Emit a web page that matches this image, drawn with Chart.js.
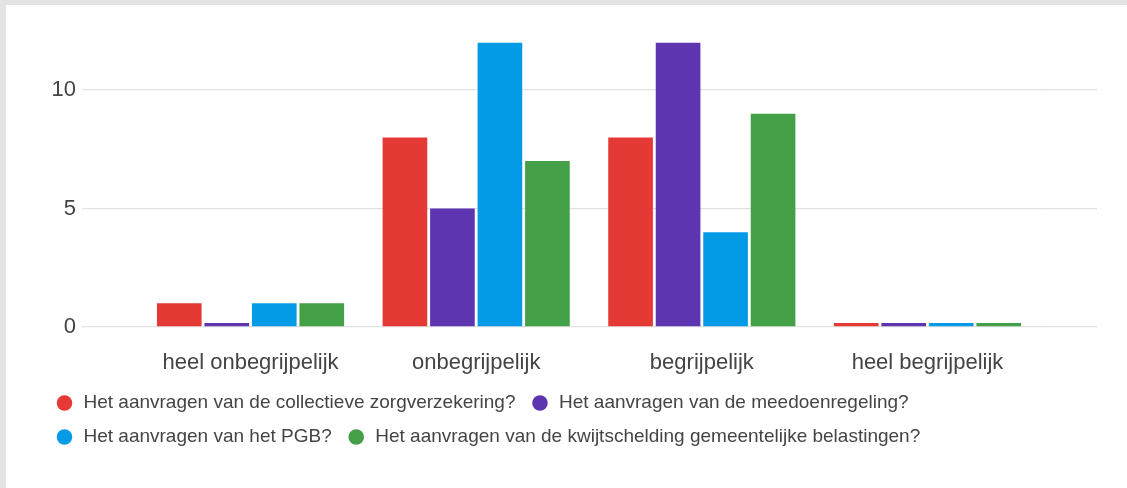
<!DOCTYPE html>
<html>
<head>
<meta charset="utf-8">
<script src="https://cdn.jsdelivr.net/npm/chart.js@4"></script>
<style>
  html, body { margin: 0; padding: 0; background: #e3e3e3; }
  #wrap { position: absolute; left: 6px; top: 5px; width: 1121px; height: 483px; background: #fff; }
</style>
</head>
<body>
<div id="wrap"><canvas id="chart"></canvas></div>
<script>
// chart data
const categories = ["heel onbegrijpelijk", "onbegrijpelijk", "begrijpelijk", "heel begrijpelijk"];
const seriesNames = [
    "Het aanvragen van de collectieve zorgverzekering?",
    "Het aanvragen van de meedoenregeling?",
    "Het aanvragen van het PGB?",
    "Het aanvragen van de kwijtschelding gemeentelijke belastingen?"
];
const zorgverzekering = [1, 8, 8, 0];
const meedoenregeling = [0, 5, 12, 0];
const pgb = [1, 12, 4, 0];
const kwijtschelding = [1, 7, 9, 0];
const yTicks = [0, 5, 10];
const yMax = 12;

const colors = ["#e53935", "#5e35b1", "#039be5", "#43a047"];
const values = [zorgverzekering, meedoenregeling, pgb, kwijtschelding];

const gridColor = "#e2e2e2";
const textColor = "#444444";

function setTicks(scale) {
    scale.ticks = yTicks.map((v) => ({ value: v }));
}

const ctx = document.getElementById("chart");
const chart = new Chart(ctx, {
    type: "bar",
    data: {
        labels: categories,
        datasets: values.map((vals, i) => ({
            label: seriesNames[i],
            data: vals,
            backgroundColor: colors[i],
            borderWidth: 0,
            minBarLength: 4,
            categoryPercentage: 0.842,
            barPercentage: 0.94
        }))
    },
    options: {
        responsive: true,
        maintainAspectRatio: false,
        animation: false,
        layout: { padding: { left: 34, right: 30, top: 37.6, bottom: 31.5 } },
        plugins: {
            tooltip: { enabled: false },
            legend: {
                position: "bottom",
                align: "start",
                labels: {
                    usePointStyle: true,
                    pointStyle: "circle",
                    boxWidth: 19,
                    boxHeight: 11,
                    padding: 15,
                    color: textColor,
                    font: { family: "'Liberation Sans', Arial, sans-serif", size: 19 }
                }
            }
        },
        scales: {
            x: {
                grid: { display: false },
                border: { display: false },
                ticks: {
                    color: textColor,
                    padding: 15,
                    font: { family: "'Liberation Sans', Arial, sans-serif", size: 22 }
                },
                afterFit: (scale) => { scale.height = 51.5; }
            },
            y: {
                min: 0,
                max: yMax,
                afterBuildTicks: setTicks,
                afterFit: (scale) => { scale.width = 97.7; },
                border: { display: false },
                grid: { color: gridColor, tickColor: gridColor, tickLength: 55.7, lineWidth: 1.3 },
                ticks: {
                    color: textColor,
                    padding: 6,
                    font: { family: "'Liberation Sans', Arial, sans-serif", size: 22 }
                }
            },
            y2: {
                position: "right",
                min: 0,
                max: yMax,
                afterBuildTicks: setTicks,
                border: { display: false },
                grid: { drawOnChartArea: false, color: gridColor, tickColor: gridColor, tickLength: 56.7, lineWidth: 1.3 },
                ticks: { display: false }
            }
        }
    }
});
</script>
</body>
</html>
